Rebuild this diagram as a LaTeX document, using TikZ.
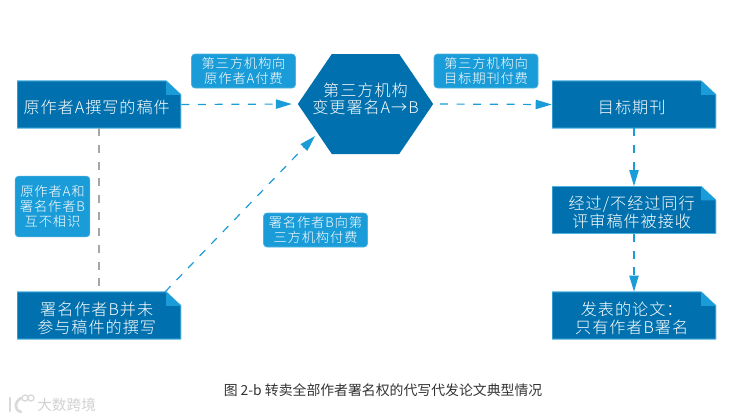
\documentclass[tikz,border=0pt]{standalone}
\usepackage{fontspec}
\setmainfont[LetterSpace=6,UprightFont={* Light}]{Noto Sans CJK SC}
\newfontfamily\captionfont{Noto Sans CJK SC}
\usetikzlibrary{shapes.symbols,arrows.meta}
\definecolor{boxblue}{HTML}{0071AE}
\definecolor{tagblue}{HTML}{1A9CD8}
\definecolor{edgeblue}{HTML}{4FB3E0}
\begin{document}
\begin{tikzpicture}[
  x=0.75pt, y=-0.75pt,
  notebox/.style={align=center, text width=123pt, text=white, font=\fontsize{12.1pt}{13.2pt}\selectfont, inner sep=0pt, minimum height=35.5pt,
    execute at begin node={\leftskip=0pt plus 1fil\rightskip=3.5pt plus 1fil\parfillskip=0pt\rule{0pt}{14pt}},
    path picture={
      \fill[boxblue, draw=edgeblue, line width=0.8pt] (path picture bounding box.south west) -- (path picture bounding box.north west) -- ([xshift=-11.25pt]path picture bounding box.north east) -- ([yshift=-10.5pt]path picture bounding box.north east) -- (path picture bounding box.south east) -- cycle;
      \fill[tagblue] ([xshift=-11.25pt]path picture bounding box.north east) -- ([xshift=-11.25pt,yshift=-10.5pt]path picture bounding box.north east) -- ([yshift=-10.5pt]path picture bounding box.north east) -- cycle;
    }},
  tagbox/.style={fill=tagblue, draw=edgeblue, line width=0.4pt, rounded corners=2.5pt, align=center, text=white, font=\fontsize{10pt}{11.2pt}\selectfont, inner sep=0pt, minimum width=78pt, minimum height=25.5pt},
  hexbox/.style={shape=signal, signal to=west and east, signal pointer angle=111.6, fill=boxblue, inner sep=0pt, outer sep=0pt, minimum width=101.5pt, minimum height=75pt},
  hextext/.style={align=center, text=white, font=\fontsize{12.1pt}{12.4pt}\selectfont, inner sep=0pt, yshift=4pt},
  flow/.style={draw=tagblue, line width=0.9pt, dash pattern=on 6pt off 6.5pt, -{Triangle[length=12pt,width=7pt]}},
  tie/.style={draw=gray!70, line width=0.9pt, dash pattern=on 6pt off 6.5pt},
  mark text/.style={text=black!18, font=\captionfont\fontsize{11pt}{12pt}\selectfont, inner sep=0pt}
]
\useasboundingbox (0,0) rectangle (729,419);

\node[notebox] (draft) at (99,104.5) {原作者A撰写的稿件};
\node[notebox] (signed) at (99,315.5) {署名作者B并未\\参与稿件的撰写};
\node[hexbox, label={[hextext]center:第三方机构\\变更署名A→B}] (third) at (365.5,104) {};
\node[notebox] (journal) at (634,104.5) {目标期刊};
\node[notebox] (review) at (634,210) {经过/不经过同行\\评审稿件被接收};
\node[notebox] (paper) at (634,315.5) {发表的论文：\\只有作者B署名};

\node[tagbox] (payauthor) at (243.5,71) {第三方机构向\\原作者A付费};
\node[tagbox] (payjournal) at (486,71) {第三方机构向\\目标期刊付费};
\node[tagbox] (paythird) at (315.5,230) {署名作者B向第\\三方机构付费};
\node[tagbox, minimum width=56pt, minimum height=45.5pt] (strangers) at (52.5,206.5) {原作者A和\\署名作者B\\互不相识};

\coordinate (signedfold) at (165,292);
\coordinate (thirdedge) at (315,136);

\draw[tie] (draft) -- (signed);
\draw[flow, shorten >=4.5pt] (draft.east) -- (third.west);
\draw[flow] (signedfold) -- (thirdedge);
\draw[flow, shorten <=5pt] (third.east) -- (journal.west);
\draw[flow] (journal.south) -- (review.north);
\draw[flow] (review.south) -- (paper.north);

\node[text=black!80, inner sep=0pt, font=\captionfont\fontsize{10.4pt}{12pt}\selectfont] (caption) at (383,390) {图 2-b 转卖全部作者署名权的代写代发论文典型情况};
% brand mark, bottom left
\draw[black!15, line width=2pt, line cap=round] (10,398) -- (10,411);
\draw[black!15, line width=2pt, line cap=round] (21,398) .. controls (14,402) and (14,410) .. (21,412);
\draw[black!15, line width=1pt] (25,398) circle (3) (31,398) circle (3);
\node[mark text, anchor=west] (brand) at (37,405) {大数跨境};
\end{tikzpicture}
\end{document}
